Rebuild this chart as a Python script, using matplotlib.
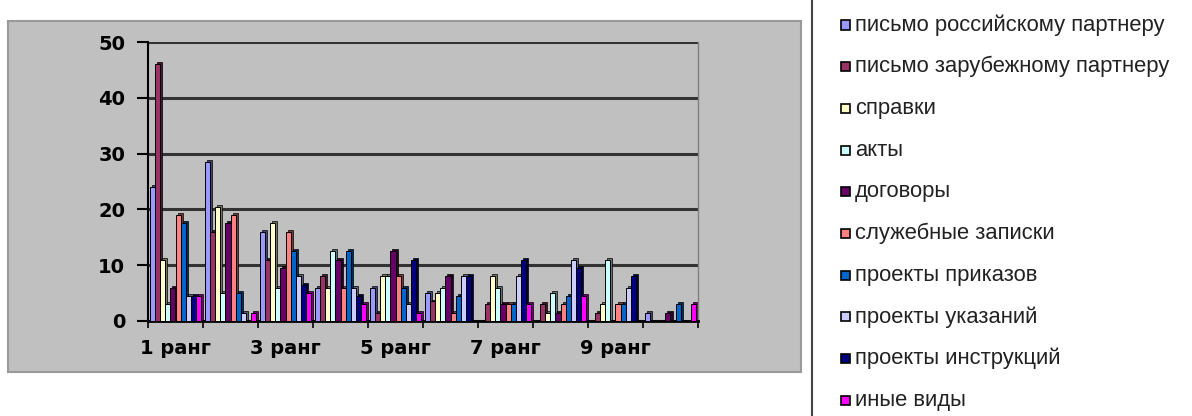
import numpy as np
import matplotlib.pyplot as plt
from matplotlib.patches import Rectangle
from matplotlib.lines import Line2D
from matplotlib.colors import to_rgb

# documents by rank, ten document types
ranks = ['1 ранг', '2 ранг', '3 ранг', '4 ранг', '5 ранг',
         '6 ранг', '7 ранг', '8 ранг', '9 ранг', '10 ранг']
doc_types = ['письмо российскому партнеру', 'письмо зарубежному партнеру',
             'справки', 'акты', 'договоры', 'служебные записки',
             'проекты приказов', 'проекты указаний', 'проекты инструкций',
             'иные виды']
colors = ['#9999ff', '#993366', '#ffffcc', '#ccffff', '#660066',
          '#ff8080', '#0066cc', '#ccccff', '#000080', '#ff00ff']

letter_ru = [24, 28.5, 16, 6, 6, 5, 0, 0, 0, 1.5]
letter_foreign = [46, 16, 11, 8, 1.5, 3.5, 3, 3, 1.5, 0]
references = [11, 20.5, 17.5, 6, 8, 5, 8, 1.5, 3, 0]
acts = [3, 5, 6, 12.5, 8, 6, 6, 5, 11, 0]
contracts = [6, 17.5, 9.5, 11, 12.5, 8, 3, 1.5, 0, 1.5]
memos = [19, 19, 16, 6, 8, 1.5, 3, 3, 3, 0]
orders = [17.5, 5, 12.5, 12.5, 6, 4.5, 3, 4.5, 3, 3]
directions = [4.5, 1.5, 8, 6, 3, 8, 8, 11, 6, 0]
instructions = [4.5, 0, 6.5, 4.5, 11, 8, 11, 9.5, 8, 0]
other = [4.5, 1.5, 5, 3, 1.5, 0, 3, 4.5, 0, 3]

series = [letter_ru, letter_foreign, references, acts, contracts,
          memos, orders, directions, instructions, other]

W, H = 1192, 416
fig = plt.figure(figsize=(W / 100, H / 100), dpi=100)

# grey chart area
fig.add_artist(Rectangle((8 / W, 1 - 372 / H), 793 / W, 351 / H,
                         transform=fig.transFigure, facecolor='#c0c0c0',
                         edgecolor='#9a9a9a', lw=1.5, zorder=0))
# separator between chart and legend
fig.add_artist(Line2D([812 / W, 812 / W], [0, 1], transform=fig.transFigure,
                      color='#444444', lw=1.5))

ax = fig.add_axes([148 / W, 1 - 321 / H, 550 / W, 279 / H])
ax.set_facecolor('none')

n = len(ranks)
w = 0.094
base = np.arange(n) + 0.03
for j, (vals, c) in enumerate(zip(series, colors)):
    vals = np.array(vals, dtype=float)
    xs = base + (j + 0.5) * w
    dark = tuple(0.45 * v for v in to_rgb(c))
    # side face of each column
    side = np.where(vals > 0, vals + 0.35, 0)
    ax.bar(xs + 0.4 * w, side, width=w, color=dark, edgecolor='black',
           lw=0.5, zorder=2)
    ax.bar(xs, vals, width=w, color=c, edgecolor='black', lw=0.7, zorder=3)

ax.set_xlim(0, n)
ax.set_ylim(0, 50)
ax.set_xticks(np.arange(0, n + 1))
ax.set_xticklabels([])
ax.set_xticks(np.arange(n)[::2] + 0.5, labels=ranks[::2], minor=True)
ax.tick_params(axis='x', which='major', length=5, width=1.2, color='black')
ax.tick_params(axis='x', which='minor', length=0, pad=13)
ax.set_yticks(np.arange(0, 51, 10))
ax.tick_params(axis='y', length=8, width=1.5, pad=8.5)
for lab in ax.get_xticklabels(minor=True) + ax.get_yticklabels():
    lab.set_fontweight('bold')
    lab.set_fontsize(14)
    lab.set_family('DejaVu Sans')

ax.yaxis.grid(True, color='#333333', lw=2.2)
ax.set_axisbelow(True)
ax.spines['top'].set_visible(False)
ax.spines['right'].set_color('#808080')
ax.spines['right'].set_linewidth(1)
ax.spines['left'].set_linewidth(1.5)
ax.spines['bottom'].set_linewidth(2)

# legend to the right of the separator
for i, (label, c) in enumerate(zip(doc_types, colors)):
    yc = 25 + i * 41.7
    fig.add_artist(Rectangle((841 / W, 1 - (yc + 4.5) / H), 9 / W, 9 / H,
                             transform=fig.transFigure, facecolor=c,
                             edgecolor='black', lw=1.2))
    fig.text(855 / W, 1 - yc / H, label, fontsize=15.8, color='#222222',
             family='Liberation Sans', va='center', ha='left')

fig.savefig('out.png', dpi=100)
